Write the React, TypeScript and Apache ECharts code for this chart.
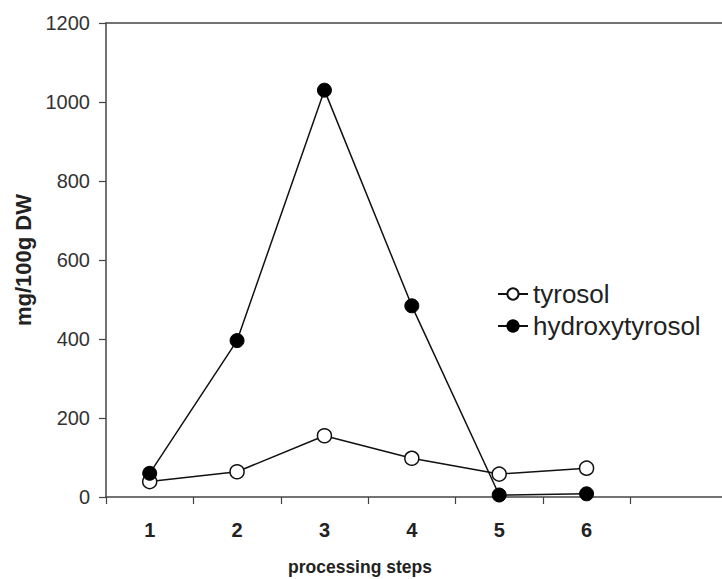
import React, { useEffect, useRef } from "react";
import * as echarts from "echarts";

const steps = [1, 2, 3, 4, 5, 6];
const stepLabels = ["1", "2", "3", "4", "5", "6"];
const tickPositions = [0.5, 1.5, 2.5, 3.5, 4.5, 5.5, 6.5];
const tyrosol = [39, 64, 155, 98, 58, 73];
const hydroxytyrosol = [60, 396, 1030, 484, 5, 8];
const yTicks = [0, 200, 400, 600, 800, 1000, 1200];

const FONT = "'Liberation Sans', Arial, Helvetica, sans-serif";

export default function App() {
  const ref = useRef<HTMLDivElement>(null);
  useEffect(() => {
    if (!ref.current) return;
    const chart = echarts.init(ref.current, null, { renderer: "svg" });
    const axisColor = "#444";
    chart.setOption({
      animation: false,
      backgroundColor: "#ffffff",
      textStyle: { fontFamily: FONT },
      grid: { left: 106, right: 0, top: 23, bottom: 82, containLabel: false },
      legend: {
        orient: "vertical",
        left: 492,
        top: 276,
        itemWidth: 30,
        itemHeight: 14,
        itemGap: 6,
        textStyle: { fontSize: 26, color: "#222", fontFamily: FONT, lineHeight: 22 },
        data: ["tyrosol", "hydroxytyrosol"],
      },
      graphic: [
        {
          type: "text",
          left: 368 - 80,
          top: 558,
          style: {
            text: "processing steps",
            fill: "#222",
            font: "bold 17.5px " + FONT,
            width: 160,
            align: "center",
          },
        },
      ],
      xAxis: [
        {
          type: "value",
          min: 0.5,
          max: 7.55,
          position: "bottom",
          splitLine: { show: false },
          axisLine: { show: true, lineStyle: { color: axisColor, width: 1.5 } },
          axisTick: {
            show: true,
            length: 7,
            inside: false,
            customValues: tickPositions,
            lineStyle: { color: axisColor, width: 1.2 },
          },
          axisLabel: {
            customValues: steps,
            formatter: (v: number) => stepLabels[steps.indexOf(Math.round(v))] ?? "",
            fontSize: 20,
            fontWeight: "bold",
            color: "#222",
            margin: 23,
            fontFamily: FONT,
          },
        },
        {
          type: "value",
          min: 0.5,
          max: 7.55,
          position: "top",
          splitLine: { show: false },
          axisLine: { show: true, lineStyle: { color: axisColor, width: 1.5 } },
          axisTick: { show: false },
          axisLabel: { show: false },
        },
      ],
      yAxis: {
        type: "value",
        min: yTicks[0],
        max: yTicks[yTicks.length - 1],
        interval: 200,
        splitLine: { show: false },
        axisLine: { show: true, lineStyle: { color: axisColor, width: 1.5 } },
        axisTick: { show: true, length: 7, inside: false, lineStyle: { color: axisColor, width: 1.2 } },
        axisLabel: {
          fontSize: 20,
          color: "#333",
          margin: 16,
          fontFamily: FONT,
          formatter: (v: number) => String(v),
        },
        name: "mg/100g DW",
        nameLocation: "middle",
        nameGap: 72,
        nameTextStyle: { fontSize: 22, fontWeight: "bold", color: "#222", fontFamily: FONT },
      },
      series: [
        {
          name: "tyrosol",
          type: "line",
          data: steps.map((s, i) => [s, tyrosol[i]]),
          symbol: "circle",
          symbolSize: 14,
          lineStyle: { color: "#111", width: 1.5 },
          itemStyle: { color: "#ffffff", borderColor: "#111", borderWidth: 1.5 },
          z: 2,
        },
        {
          name: "hydroxytyrosol",
          type: "line",
          data: steps.map((s, i) => [s, hydroxytyrosol[i]]),
          symbol: "circle",
          symbolSize: 14,
          lineStyle: { color: "#111", width: 1.5 },
          itemStyle: { color: "#000", borderColor: "#000", borderWidth: 1 },
          z: 3,
        },
      ],
    });
    return () => chart.dispose();
  }, []);
  return (
    <div
      ref={ref}
      style={{ position: "fixed", left: 0, top: 0, width: 722, height: 579, background: "#fff" }}
    />
  );
}
